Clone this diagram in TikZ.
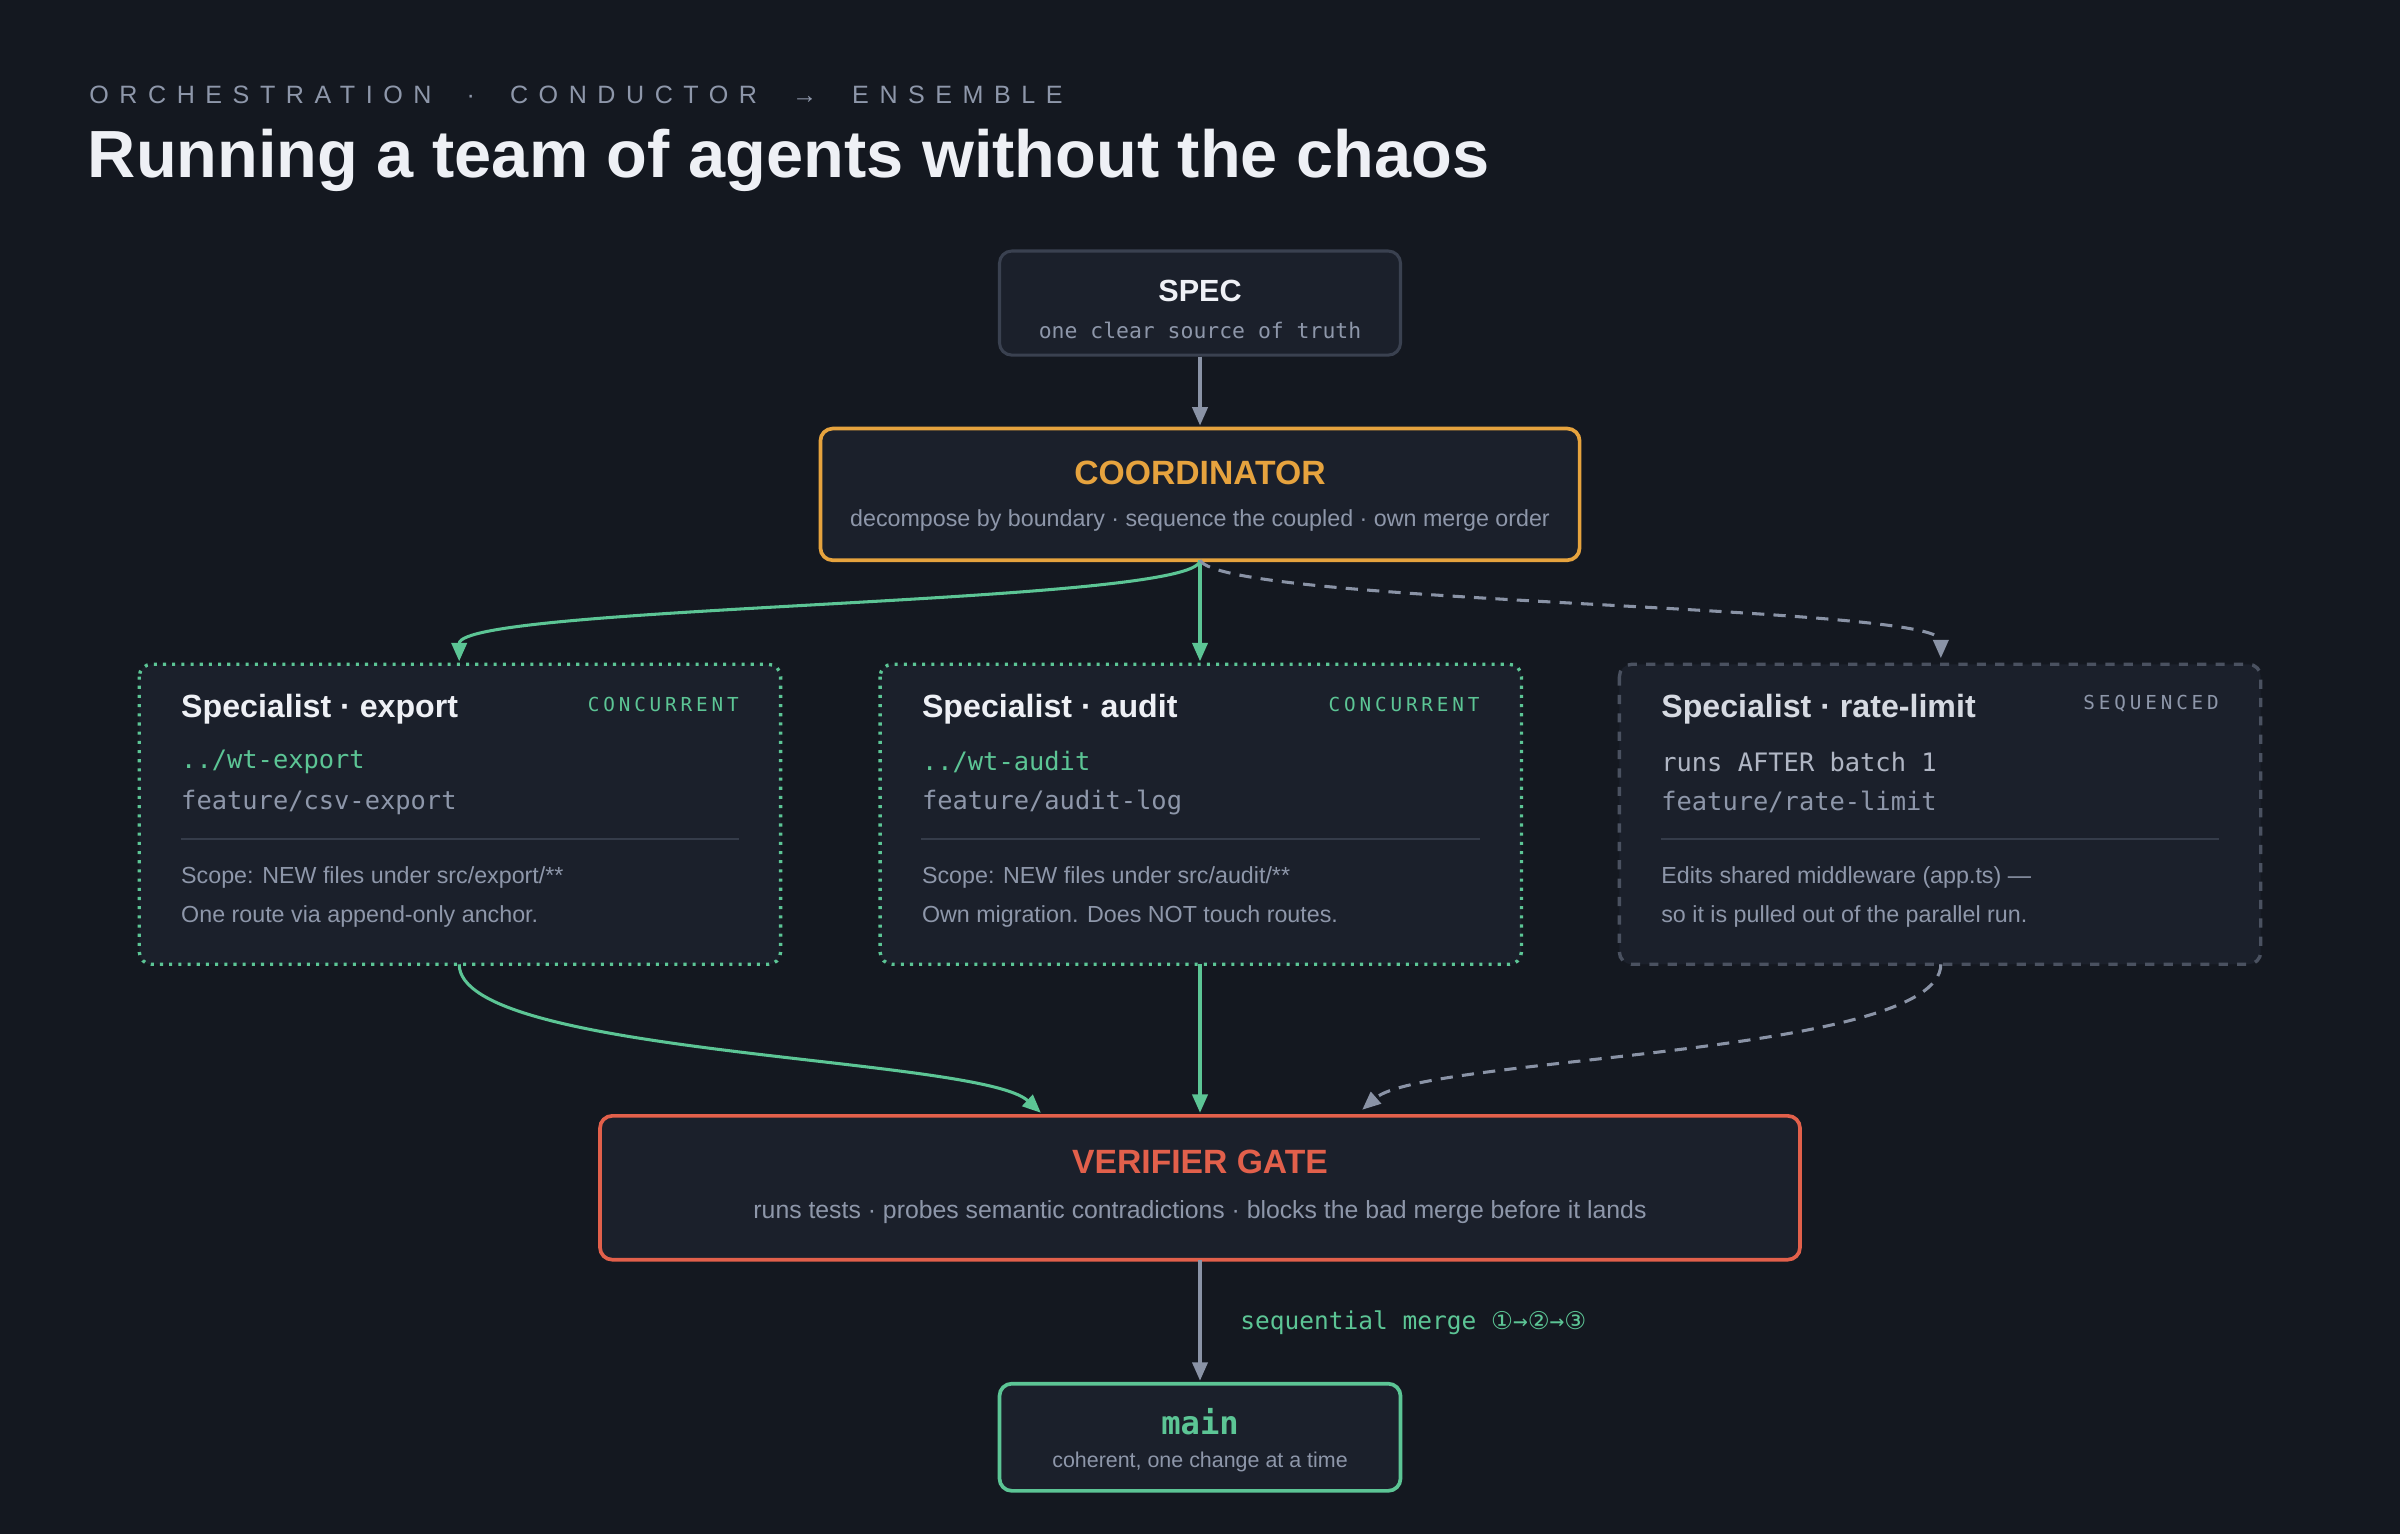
\documentclass[tikz,border=0pt]{standalone}
\usepackage{fontspec}
\setmainfont{Liberation Sans}
\setmonofont{DejaVu Sans Mono}
\newfontfamily\circfont{DejaVu Sans}
\usetikzlibrary{arrows.meta}
\definecolor{bg}{HTML}{141820}
\definecolor{boxfill}{HTML}{1B202B}
\definecolor{boxline}{HTML}{3A4150}
\definecolor{txtw}{HTML}{EEF0F5}
\definecolor{txtg}{HTML}{8E97AA}
\definecolor{grn}{HTML}{5CC595}
\definecolor{org}{HTML}{E6A33E}
\definecolor{red}{HTML}{E2604B}
\definecolor{arr}{HTML}{8A93A6}
\definecolor{sep}{HTML}{353C4A}
\definecolor{dgrey}{HTML}{4A5160}
\tikzset{
  x=0.5pt,y=-0.5pt,
  box/.style={fill=boxfill, rounded corners=4pt, line width=1pt},
  t/.style={inner sep=0pt},
  con/.style={line width=1pt,-{Triangle[length=6pt,width=5pt]}},
}
\begin{document}
\begin{tikzpicture}
\fill[bg] (0,0) rectangle (1568,1002);
\useasboundingbox (0,0) rectangle (1568,1002);
\node[t,anchor=west,text=txtg,font=\fontsize{8.2}{8.2}\selectfont\addfontfeature{LetterSpace=42}] (sub) at (58,62) {ORCHESTRATION\ \ ·\ \ CONDUCTOR\ \ →\ \ ENSEMBLE};
\node[t,anchor=west,text=txtw,font=\fontsize{21.8}{21.8}\selectfont\bfseries] (title) at (57,105) {Running a team of agents without the chaos};
% spec
\draw[box,draw=boxline] (653,164) rectangle (915,232);
\node[t,text=txtw,font=\fontsize{10}{10}\selectfont\bfseries] (spec) at (784,190) {SPEC};
\node[t,text=txtg,font=\fontsize{7}{7}\ttfamily] (specs) at (784,216) {one clear source of truth};
% coordinator
\draw[box,draw=org,line width=1.2pt] (536,280) rectangle (1032,366);
\node[t,text=org,font=\fontsize{11}{11}\selectfont\bfseries] (coord) at (784,309) {COORDINATOR};
\node[t,text=txtg,font=\fontsize{7.6}{7.6}\selectfont] (coords) at (784,340) {decompose by boundary · sequence the coupled · own merge order};
% specialists
\foreach \x/\nm/\tag/\tc/\p/\pc/\b/\la/\lb/\sty/\bc/\nc in {
 91/export/CONCURRENT/grn/{../wt-export}/grn/{feature/csv-export}/{Scope: NEW files under src/export/**}/{One route via append-only anchor.}/{dotted}/grn/txtw,
 575/audit/CONCURRENT/grn/{../wt-audit}/grn/{feature/audit-log}/{Scope: NEW files under src/audit/**}/{Own migration. Does NOT touch routes.}/{dotted}/grn/txtw,
 1058/rate-limit/SEQUENCED/txtg/{runs AFTER batch 1}/txtg!70!white/{feature/rate-limit}/{Edits shared middleware (app.ts) —}/{so it is pulled out of the parallel run.}/{dashed}/dgrey/txtw!75!txtg}{
  \draw[box,draw=\bc,\sty,line width=1.1pt] (\x,434) rectangle ++(419,196);
  \node[t,anchor=west,text=\nc,font=\fontsize{10.5}{10.5}\selectfont\bfseries] at (\x+27,463) {Specialist · \nm};
  \node[t,anchor=east,text=\tc,font=\fontsize{6.3}{6.3}\ttfamily\addfontfeature{LetterSpace=20}] at (\x+392,460) {\tag};
  \node[t,anchor=west,text=\pc,font=\fontsize{8.3}{8.3}\ttfamily] at (\x+27,498) {\p};
  \node[t,anchor=west,text=txtg,font=\fontsize{8.3}{8.3}\ttfamily] at (\x+27,524) {\b};
  \draw[sep,line width=0.8pt] (\x+27,548) -- (\x+392,548);
  \node[t,anchor=west,text=txtg,font=\fontsize{7.6}{7.6}\selectfont] at (\x+27,573) {\la};
  \node[t,anchor=west,text=txtg,font=\fontsize{7.6}{7.6}\selectfont] at (\x+27,599) {\lb};
}
\coordinate (exT) at (300,432); \coordinate (exB) at (300,630);
\coordinate (auT) at (784,432); \coordinate (auB) at (784,630);
\coordinate (rlT) at (1268,430); \coordinate (rlB) at (1268,630);
% verifier
\draw[box,draw=red,line width=1.2pt] (392,729) rectangle (1176,823);
\node[t,text=red,font=\fontsize{11}{11}\selectfont\bfseries] (ver) at (784,759) {VERIFIER GATE};
\node[t,text=txtg,font=\fontsize{8.1}{8.1}\selectfont] (vers) at (784,792) {runs tests · probes semantic contradictions · blocks the bad merge before it lands};
% main
\draw[box,draw=grn,line width=1.2pt] (653,904) rectangle (915,974);
\node[t,text=grn,font=\fontsize{10.5}{10.5}\ttfamily\bfseries] (main) at (784,929) {main};
\node[t,text=txtg,font=\fontsize{7}{7}\selectfont] (mains) at (784,955) {coherent, one change at a time};
\coordinate (specB) at (784,233); \coordinate (coT) at (784,278); \coordinate (coB) at (784,366);
\coordinate (vT1) at (680,727); \coordinate (vT2) at (784,727); \coordinate (vT3) at (890,725);
\coordinate (vB) at (784,823); \coordinate (mT) at (784,902);
% connectors
\draw[con,arr] (specB) -- (coT);
\draw[con,grn] (coB) .. controls (784,395) and (300,395) .. (exT);
\draw[con,grn] (coB) -- (auT);
\draw[con,arr,dash pattern=on 4pt off 3pt] (coB) .. controls (800,395) and (1268,395) .. (rlT);
\draw[con,grn] (exB) .. controls (300,690) and (640,690) .. (vT1);
\draw[con,grn] (auB) -- (vT2);
\draw[con,arr,dash pattern=on 4pt off 3pt] (rlB) .. controls (1268,690) and (930,690) .. (vT3);
\draw[con,arr] (vB) -- (mT);
\node[t,anchor=west,text=grn,font=\fontsize{8}{8}\ttfamily] (seq) at (810,864) {sequential merge {\circfont ①}→{\circfont ②}→{\circfont ③}};
\end{tikzpicture}
\end{document}
